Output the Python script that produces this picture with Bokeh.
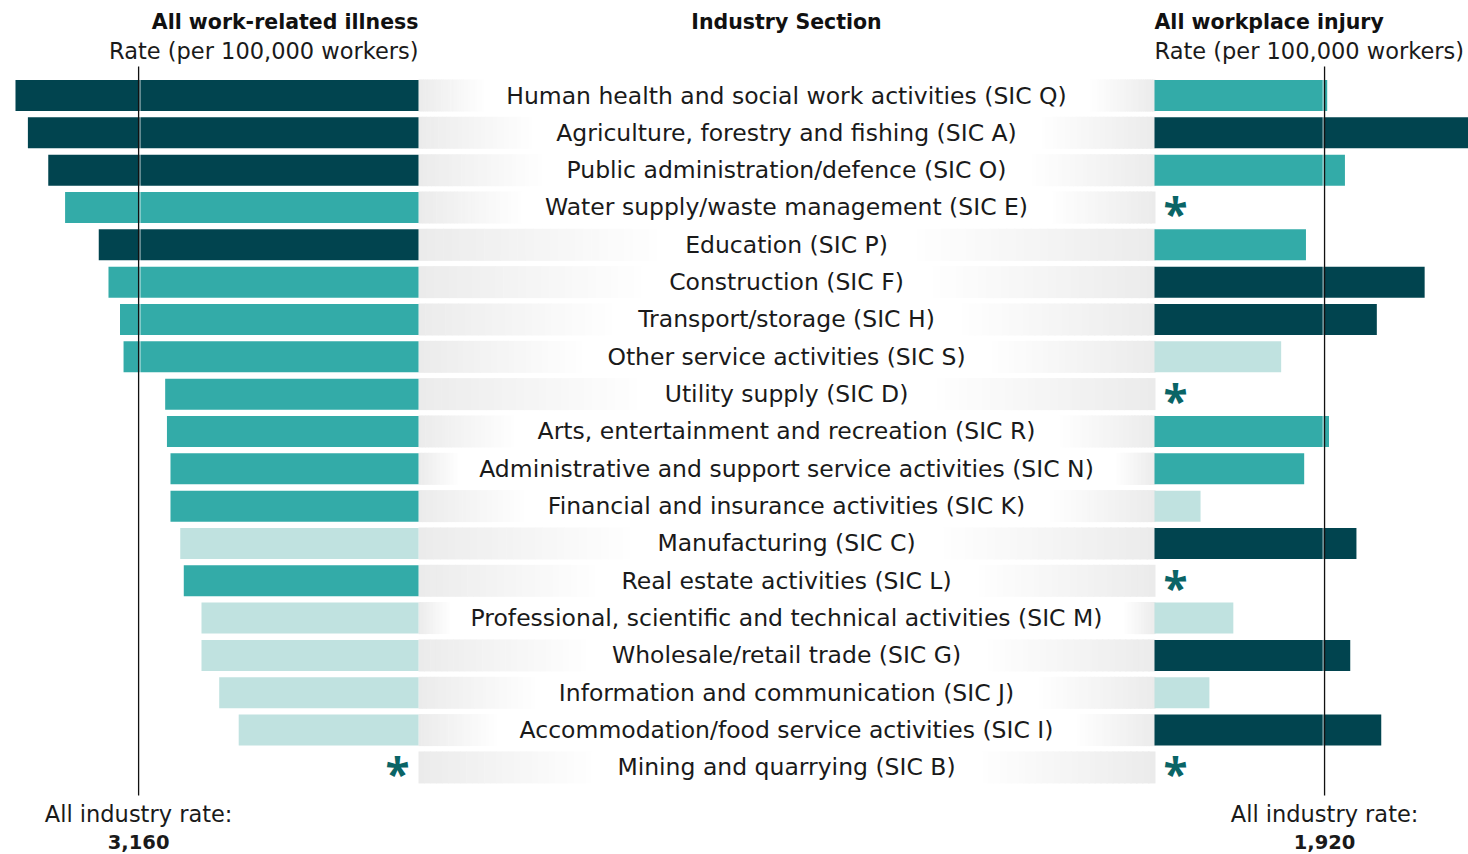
from bokeh.plotting import figure
from bokeh.models import Range1d, ColumnDataSource
from bokeh.embed import file_html
from bokeh.resources import INLINE
from bokeh.core.properties import value

# ---------------- data ----------------
industries = [
    "Human health and social work activities (SIC Q)",
    "Agriculture, forestry and fishing (SIC A)",
    "Public administration/defence (SIC O)",
    "Water supply/waste management (SIC E)",
    "Education (SIC P)",
    "Construction (SIC F)",
    "Transport/storage (SIC H)",
    "Other service activities (SIC S)",
    "Utility supply (SIC D)",
    "Arts, entertainment and recreation (SIC R)",
    "Administrative and support service activities (SIC N)",
    "Financial and insurance activities (SIC K)",
    "Manufacturing (SIC C)",
    "Real estate activities (SIC L)",
    "Professional, scientific and technical activities (SIC M)",
    "Wholesale/retail trade (SIC G)",
    "Information and communication (SIC J)",
    "Accommodation/food service activities (SIC I)",
    "Mining and quarrying (SIC B)",
]
# None = not reported (shown as *)
illness_rate = [4550, 4410, 4180, 3990, 3610, 3500, 3370, 3330, 2860, 2840,
                2800, 2800, 2690, 2650, 2450, 2450, 2250, 2030, None]
illness_sig = ["higher", "higher", "higher", "similar", "higher", "similar", "similar",
               "similar", "similar", "similar", "similar", "similar", "lower", "similar",
               "lower", "lower", "lower", "lower", None]
injury_rate = [1950, 3550, 2150, None, 1710, 3050, 2510, 1430, None, 1970,
               1690, 520, 2280, None, 890, 2210, 620, 2560, None]
injury_sig = ["similar", "higher", "similar", None, "similar", "higher", "higher", "lower",
              None, "similar", "similar", "lower", "higher", None, "lower", "higher",
              "lower", "higher", None]
all_industry_illness = 3160
all_industry_injury = 1920

sig_colors = {"higher": "#01444f", "similar": "#33aba8", "lower": "#c0e2e0"}
STAR_COLOR = "#0a6466"
TEXT_COLOR = "#1a1a1a"
FONT = "DejaVu Sans"
STAR_FONT = "Open Sans"
LABEL_SIZE = 23.5
SUB_SIZE = 22.5
BOLD_SIZE = 20.5

# ---------------- layout ----------------
W, H = 1468, 854
U = 11.29            # rate units per pixel
LEFT0 = 418          # pixel position of zero for illness bars
GAP = 736            # pixel width of the label band
G = GAP * U          # data offset of injury zero
Y0, DY, BAR_H = 95, 37.33, 31

n = len(industries)
ys = [Y0 + i * DY for i in range(n)]


def measure(s, size, bold=False):
    try:
        from PIL import ImageFont
        import subprocess
        pat = FONT + (":bold" if bold else ":regular")
        path = subprocess.run(["fc-match", "-f", "%{file}", pat], capture_output=True,
                              text=True, timeout=5).stdout.strip()
        return ImageFont.truetype(path, 100).getlength(s) * size / 100.0
    except Exception:
        return 0.51 * size * len(s)


p = figure(width=W, height=H, x_range=Range1d(-LEFT0 * U, (W - LEFT0) * U),
           y_range=Range1d(H, 0), output_backend="svg", toolbar_location=None,
           min_border=0, x_axis_location=None, y_axis_location=None)
p.grid.visible = False
p.outline_line_color = None
p.background_fill_color = "white"
p.border_fill_color = "white"

# ---------------- label band with soft gradient edges ----------------
NSTRIP = 30
gl, gr, gt, gb, gc = [], [], [], [], []
for i, lab in enumerate(industries):
    w = measure(lab, LABEL_SIZE)
    wl = max(GAP / 2 - w / 2 - 20, 10)
    wr = min(GAP / 2 + w / 2 + 20, GAP - 10)
    for k in range(NSTRIP):
        t = (k + 0.5) / NSTRIP
        g = int(round(235 + 20 * t))
        col = "#%02x%02x%02x" % (g, g, g)
        gl.append(k * wl / NSTRIP * U)
        gr.append((k + 1) * wl / NSTRIP * U + 0.6 * U)
        gt.append(ys[i] - BAR_H / 2 - 0.5)
        gb.append(ys[i] + BAR_H / 2 + 0.5)
        gc.append(col)
        gl.append((GAP - (k + 1) * (GAP - wr) / NSTRIP) * U - 0.6 * U)
        gr.append((GAP - k * (GAP - wr) / NSTRIP) * U + 1.0 * U)
        gt.append(ys[i] - BAR_H / 2 - 0.5)
        gb.append(ys[i] + BAR_H / 2 + 0.5)
        gc.append(col)
p.quad(left=gl, right=gr, top=gt, bottom=gb, fill_color=gc, line_color=None)

# ---------------- bars ----------------
li = [i for i in range(n) if illness_rate[i] is not None]
src_l = ColumnDataSource(dict(
    y=[ys[i] for i in li],
    left=[-illness_rate[i] for i in li],
    right=[0] * len(li),
    color=[sig_colors[illness_sig[i]] for i in li]))
p.hbar(y="y", left="left", right="right", height=BAR_H, fill_color="color",
       line_color=None, source=src_l)

ri = [i for i in range(n) if injury_rate[i] is not None]
src_r = ColumnDataSource(dict(
    y=[ys[i] for i in ri],
    left=[G] * len(ri),
    right=[G + injury_rate[i] for i in ri],
    color=[sig_colors[injury_sig[i]] for i in ri]))
p.hbar(y="y", left="left", right="right", height=BAR_H, fill_color="color",
       line_color=None, source=src_r)

# asterisks for missing values
STAR_SIZE = 44
sl = [i for i in range(n) if illness_rate[i] is None]
p.text(x=[-21 * U] * len(sl), y=[ys[i] for i in sl], text=["*"] * len(sl),
       text_font=value(STAR_FONT), text_font_style="bold", text_font_size=f"{STAR_SIZE}px",
       text_color=STAR_COLOR, text_align="center", text_baseline="middle",
       y_offset=6)
sr = [i for i in range(n) if injury_rate[i] is None]
p.text(x=[G + 21 * U] * len(sr), y=[ys[i] for i in sr], text=["*"] * len(sr),
       text_font=value(STAR_FONT), text_font_style="bold", text_font_size=f"{STAR_SIZE}px",
       text_color=STAR_COLOR, text_align="center", text_baseline="middle",
       y_offset=6)

# ---------------- industry labels ----------------
p.text(x=[G / 2] * n, y=ys, text=industries, text_font=value(FONT),
       text_font_size=f"{LABEL_SIZE}px", text_color=TEXT_COLOR,
       text_align="center", text_baseline="middle")

# ---------------- all-industry reference lines ----------------
LINE_TOP, LINE_BOT = 66, 795
xl = -all_industry_illness
xr = G + all_industry_injury
p.segment(x0=[xl + 1.4 * U], x1=[xl + 1.4 * U], y0=[LINE_TOP], y1=[LINE_BOT],
          line_color="white", line_alpha=0.55, line_width=1.4)
p.segment(x0=[xr - 1.4 * U], x1=[xr - 1.4 * U], y0=[LINE_TOP], y1=[LINE_BOT],
          line_color="white", line_alpha=0.55, line_width=1.4)
p.segment(x0=[xl, xr], x1=[xl, xr], y0=[LINE_TOP] * 2, y1=[LINE_BOT] * 2,
          line_color="#111111", line_width=1.3)

p.text(x=[xl, xr], y=[813, 813], text=["All industry rate:"] * 2, text_font=value(FONT),
       text_font_size=f"{SUB_SIZE}px", text_color=TEXT_COLOR, text_align="center",
       text_baseline="middle")
p.text(x=[xl, xr], y=[841, 841],
       text=[f"{all_industry_illness:,}", f"{all_industry_injury:,}"],
       text_font=value(FONT), text_font_style="bold", text_font_size="19.5px",
       text_color=TEXT_COLOR, text_align="center", text_baseline="middle")

# ---------------- headers ----------------
p.text(x=[0], y=[21], text=["All work-related illness"], text_font=value(FONT),
       text_font_style="bold", text_font_size=f"{BOLD_SIZE}px", text_color="#111111",
       text_align="right", text_baseline="middle")
p.text(x=[0], y=[50], text=["Rate (per 100,000 workers)"], text_font=value(FONT),
       text_font_size=f"{SUB_SIZE}px", text_color=TEXT_COLOR, text_align="right",
       text_baseline="middle")
p.text(x=[G / 2], y=[21], text=["Industry Section"], text_font=value(FONT),
       text_font_style="bold", text_font_size=f"{BOLD_SIZE}px", text_color="#111111",
       text_align="center", text_baseline="middle")
p.text(x=[G], y=[21], text=["All workplace injury"], text_font=value(FONT),
       text_font_style="bold", text_font_size=f"{BOLD_SIZE}px", text_color="#111111",
       text_align="left", text_baseline="middle")
p.text(x=[G], y=[50], text=["Rate (per 100,000 workers)"], text_font=value(FONT),
       text_font_size=f"{SUB_SIZE}px", text_color=TEXT_COLOR, text_align="left",
       text_baseline="middle")

open("out.html", "w").write(file_html(p, INLINE))
